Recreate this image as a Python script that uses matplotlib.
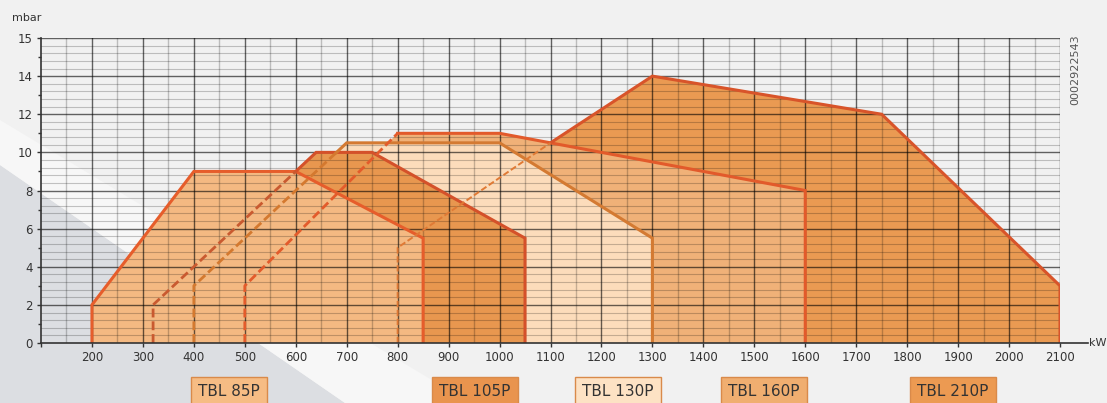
import matplotlib
matplotlib.use('Agg')
import matplotlib.pyplot as plt
import numpy as np
from matplotlib.patches import Polygon

# working ranges, kW vs mbar (outline points, left to right)
burners = ['TBL 85P', 'TBL 105P', 'TBL 130P', 'TBL 160P', 'TBL 210P']
kw_85 = [200, 200, 400, 600, 850, 850]
mbar_85 = [0, 2, 9, 9, 5.5, 0]
kw_105 = [320, 320, 600, 640, 750, 1050, 1050]
mbar_105 = [0, 2, 9, 10, 10, 5.5, 0]
kw_130 = [400, 400, 680, 700, 1000, 1300, 1300]
mbar_130 = [0, 3, 10, 10.5, 10.5, 5.5, 0]
kw_160 = [500, 500, 800, 1000, 1600, 1600]
mbar_160 = [0, 3, 11, 11, 8, 0]
kw_210 = [800, 800, 1100, 1300, 1750, 2100, 2100]
mbar_210 = [0, 5, 10.5, 14, 12, 3, 0]
kw_all = [kw_85, kw_105, kw_130, kw_160, kw_210]
mbar_all = [mbar_85, mbar_105, mbar_130, mbar_160, mbar_210]
# leading outline points that lie behind the curves in front (drawn dashed)
hidden = [0, 2, 2, 2, 2]

x_ticks = list(range(200, 2101, 100))
y_ticks = [0, 2, 4, 6, 8, 10, 12, 14, 16]
y_labels = ['0', '2', '4', '6', '8', '10', '12', '14', '15']

fill_colors = ['#f4b982', '#e8974f', '#fcdcbb', '#f0b178', '#ea9a52']
line_colors = ['#e65d2b', '#d4512a', '#d47a32', '#e25a2b', '#d8542a']
dash_colors = ['#e65d2b', '#c95a30', '#d4792f', '#e35b2b', '#e07a35']
box_colors = ['#f6bc84', '#e9944e', '#fde2c4', '#f0ae70', '#ec9a52']
box_px = [229, 475, 618, 764, 953]

W, H = 1107, 403
fig = plt.figure(figsize=(W / 100, H / 100), dpi=100)
fig.patch.set_facecolor('#f1f1f1')
# grey light streak of the background
fig.patches.append(Polygon([(0, 1 - 165 / H), (345 / W, 0), (0, 0)], closed=True,
                           transform=fig.transFigure, facecolor='#dcdee2',
                           edgecolor='none', zorder=-5))
fig.patches.append(Polygon([(0, 1 - 120 / H), (0, 1 - 165 / H), (345 / W, 0), (470 / W, 0)],
                           closed=True, transform=fig.transFigure, facecolor='#f7f7f7',
                           edgecolor='none', zorder=-5))

ax = fig.add_axes([41 / W, 1 - 343 / H, (1060 - 41) / W, (343 - 38) / H])
ax.set_facecolor('none')
ax.set_zorder(1)
ax.set_xlim(100, 2100)
ax.set_ylim(0, 16)

# areas, back to front
for i in reversed(range(len(burners))):
    ax.fill(kw_all[i], mbar_all[i], color=fill_colors[i], lw=0, zorder=1 + (4 - i) * 0.1)

# grid
for x in np.arange(150, 2100, 100):
    ax.axvline(x, color='black', alpha=0.22, lw=1, zorder=2)
for x in np.arange(200, 2101, 100):
    ax.axvline(x, color='black', alpha=0.6, lw=1, zorder=2)
for y in np.arange(0.4, 16.01, 0.4):
    major = abs(y / 2 - round(y / 2)) < 1e-6
    ax.axhline(y, color='black', alpha=0.6 if major else 0.22,
               lw=1 if major else 0.8, zorder=2)

# outlines
for i in range(len(burners)):
    h = hidden[i]
    ax.plot(kw_all[i][h:], mbar_all[i][h:], color=line_colors[i], lw=2.2,
            solid_joinstyle='miter', zorder=3)
    if h > 0:
        ax.plot(kw_all[i][:h + 1], mbar_all[i][:h + 1], color=dash_colors[i],
                lw=1.4 if i == 4 else 2.0, ls=(0, (3.2, 1.4)), zorder=3.5)

for s in ['top', 'right', 'bottom']:
    ax.spines[s].set_visible(False)
ax.spines['left'].set_color('#333333')
ax.spines['left'].set_linewidth(1.2)
ax.plot([100, 2155], [0, 0], color='#333333', lw=1.2, clip_on=False, zorder=4)
ax.text(2157, 0, 'kW', fontsize=8, color='#333333', va='center', ha='left')

ax.set_xticks(x_ticks)
ax.set_xticks([100], minor=True)
ax.set_yticks(y_ticks)
ax.set_yticklabels(y_labels)
ax.set_yticks(range(1, 16, 2), minor=True)
ax.tick_params(axis='x', which='both', direction='out', length=3, width=1,
               color='#333333', labelsize=8.5, labelcolor='#333333', pad=3)
ax.tick_params(axis='y', which='major', direction='out', length=3, width=1,
               color='#333333', labelsize=8.5, labelcolor='#333333', pad=3)
ax.tick_params(axis='y', which='minor', direction='out', length=2, width=1,
               color='#333333')

fig.text(12 / W, 1 - 18 / H, 'mbar', fontsize=8, color='#333333', va='center', ha='left')
fig.text(1075 / W, 1 - 70 / H, '0002922543', rotation=90, fontsize=8,
         color='#555555', ha='center', va='center')

for name, c, px in zip(burners, box_colors, box_px):
    fig.text(px / W, 1 - 391 / H, name, fontsize=11, color='#333333',
             ha='center', va='center',
             bbox=dict(boxstyle='square,pad=0.45', facecolor=c, edgecolor='#d98a4a', lw=1))

fig.savefig('out.png', dpi=100, facecolor=fig.get_facecolor())
